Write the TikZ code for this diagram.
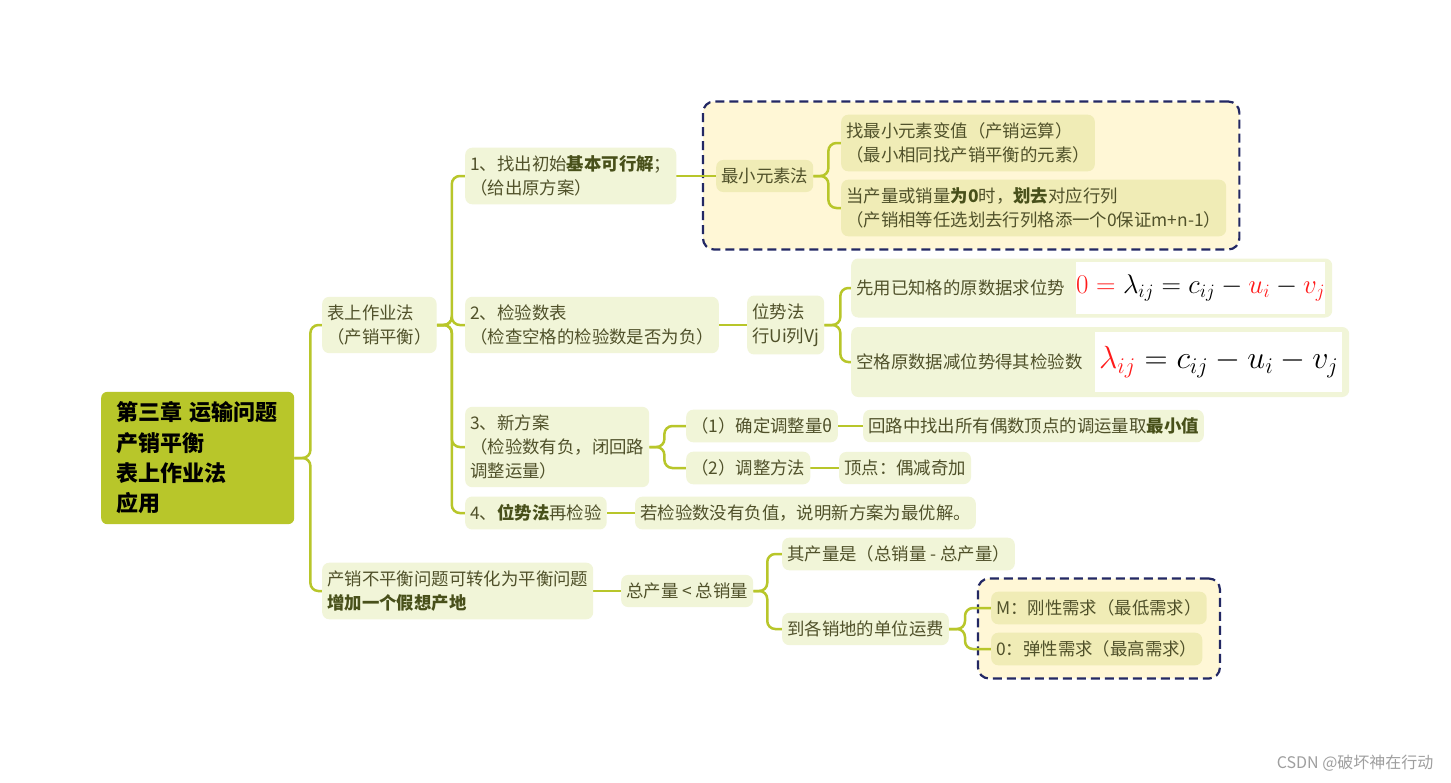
\RequirePackage{fix-cm}
\documentclass[tikz,border=0pt]{standalone}
\usepackage{fontspec}
\setmainfont{Noto Sans CJK SC}
\usetikzlibrary{fit,backgrounds}
\definecolor{linec}{HTML}{B8C62A}
\definecolor{rootc}{HTML}{B8C62A}
\definecolor{leafc}{HTML}{F1F5D8}
\definecolor{deepc}{HTML}{F0ECB6}
\definecolor{groupc}{HTML}{FFF7D6}
\definecolor{framec}{HTML}{232864}
\definecolor{inkc}{HTML}{50512A}
\definecolor{boldc}{HTML}{48501A}
\definecolor{markc}{HTML}{FF1A1A}
\newcommand\keyw[1]{\textbf{\color{boldc}#1}}
\newcommand\rd[1]{{\color{markc}#1}}
\tikzset{
  root/.style={fill=rootc, rounded corners=6pt, text width=163pt, inner xsep=15pt, inner ysep=10pt, align=left, font=\fontsize{22}{30.3}\selectfont\bfseries, anchor=west},
  topic/.style={fill=leafc, rounded corners=7pt, inner xsep=5pt, inner ysep=8pt, align=left, text=inkc, font=\fontsize{17.4}{24}\selectfont, anchor=west},
  deep/.style={topic, fill=deepc},
  link/.style={draw=linec, line width=2.5pt, rounded corners=8pt},
  group/.style={draw=framec, fill=groupc, line width=2.2pt, dash pattern=on 9pt off 5pt, rounded corners=11pt, inner sep=13pt},
  formula/.style={fill=white, inner sep=0pt, anchor=east},
}
\begin{document}
\begin{tikzpicture}[x=1pt,y=-1pt]
\useasboundingbox (0,0) rectangle (1451,782);
\node[root] (chap) at (101,458) {第三章 运输问题\\产销平衡\\表上作业法\\应用};
\node[topic] (bal) at (322,325) {表上作业法\\（产销平衡）};
\node[topic] (unbal) at (322,591) {产销不平衡问题可转化为平衡问题\\\keyw{增加一个假想产地}};

\node[topic] (s1) at (465,176) {1、找出初始\keyw{基本可行解}；\\（给出原方案）};
\node[topic] (s2) at (465,325) {2、检验数表\\（检查空格的检验数是否为负）};
\node[topic] (s3) at (465,447) {3、新方案\\（检验数有负，闭回路\\调整运量）};
\node[topic] (s4) at (465,513) {4、\keyw{位势法}再检验};

\node[deep] (minel) at (716,176) {最小元素法};
\node[deep] (find) at (841,143) {找最小元素变值（产销运算）\\（最小相同找产销平衡的元素）};
\node[deep] (cross) at (841,208) {当产量或销量\keyw{为0}时，\keyw{划去}对应行列\\（产销相等任选划去行列格添一个0保证m+n-1）};

\node[topic] (pot) at (747,325) {位势法\\行Ui列Vj};
\node[topic, text width=471pt, minimum height=59pt] (known) at (851,288) {先用已知格的原数据求位势};
\node[formula, minimum width=247pt, minimum height=52pt, font=\fontsize{27}{30}\selectfont] (knownf) at ([xshift=-7pt]known.east) {$\rd{0}\mathrel{\rd{=}}\lambda_{ij}=c_{ij}-\rd{u_i}-\rd{v_j}$};
\node[topic, text width=488pt, minimum height=70pt] (empty) at (851,362) {空格原数据减位势得其检验数};
\node[formula, minimum width=247pt, minimum height=60pt, font=\fontsize{32}{34}\selectfont] (emptyf) at ([xshift=-7pt]empty.east) {$\rd{\lambda_{ij}}=c_{ij}-u_i-v_j$};

\node[topic] (theta) at (686,426) {（1）确定调整量θ};
\node[topic] (adj) at (686,468) {（2）调整方法};
\node[topic] (minv) at (863,426) {回路中找出所有偶数顶点的调运量取\keyw{最小值}};
\node[topic] (vert) at (839,468) {顶点：偶减奇加};
\node[topic] (opt) at (635,513) {若检验数没有负值，说明新方案为最优解。};

\node[topic] (less) at (621,591) {总产量 < 总销量};
\node[topic] (dummy) at (782,554) {其产量是（总销量 - 总产量）};
\node[topic] (cost) at (782,629) {到各销地的单位运费};
\node[deep] (bigm) at (991,608) {M：刚性需求（最低需求）};
\node[deep] (zero) at (991,649) {0：弹性需求（最高需求）};

\node[text=gray!75, font=\fontsize{16}{16}\selectfont, anchor=east] (mark) at (1437,763) {CSDN @破坏神在行动};

\begin{scope}[on background layer]
\fill[white] (0,0) rectangle (1451,782);
\node[group, fit=(minel)(find)(cross)] (grpmin) {};
\node[group, fit=(bigm)(zero)] (grpm) {};
\draw[link] (chap.east) -- ++(16,0) |- (bal.west);
\draw[link] (chap.east) -- ++(16,0) |- (unbal.west);
\foreach \c in {s1,s2,s3,s4} \draw[link] (bal.east) -- ++(15,0) |- (\c.west);
\draw[link] (s1.east) -- (minel.west);
\foreach \c in {find,cross} \draw[link] (minel.east) -- ++(15,0) |- (\c.west);
\draw[link] (s2.east) -- (pot.west);
\foreach \c in {known,empty} \draw[link] (pot.east) -- ++(16,0) |- (\c.west);
\foreach \c in {theta,adj} \draw[link] (s3.east) -- ++(15,0) |- (\c.west);
\draw[link] (theta.east) -- (minv.west);
\draw[link] (adj.east) -- (vert.west);
\draw[link] (s4.east) -- (opt.west);
\draw[link] (unbal.east) -- (less.west);
\foreach \c in {dummy,cost} \draw[link] (less.east) -- ++(14,0) |- (\c.west);
\foreach \c in {bigm,zero} \draw[link] (cost.east) -- ++(16,0) |- (\c.west);
\end{scope}
\end{tikzpicture}
\end{document}
